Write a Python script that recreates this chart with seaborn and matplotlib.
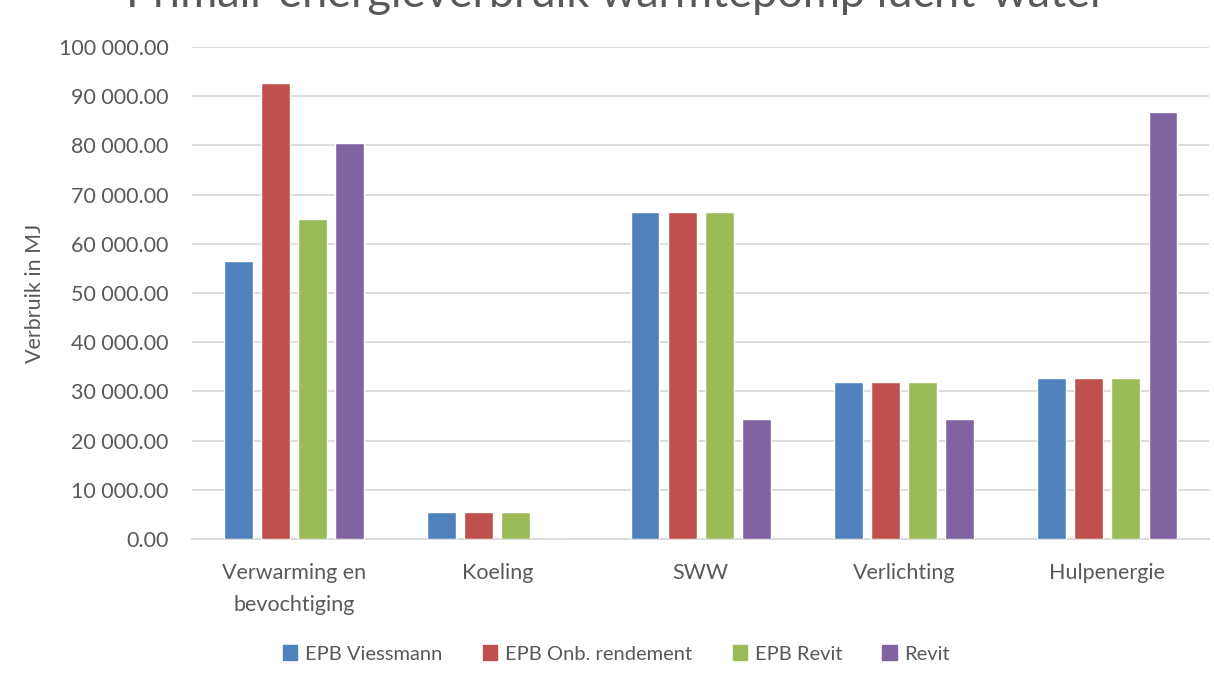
import numpy as np
import pandas as pd
import matplotlib
matplotlib.use("Agg")
import matplotlib.pyplot as plt
from matplotlib.ticker import FuncFormatter, MultipleLocator
import seaborn as sns

categories = ["Verwarming en\nbevochtiging", "Koeling", "SWW", "Verlichting", "Hulpenergie"]
series = ["EPB Viessmann", "EPB Onb. rendement", "EPB Revit", "Revit"]
epb_viessmann = [56600, 5500, 66500, 31900, 32700]
epb_onb_rendement = [92700, 5500, 66500, 31900, 32700]
epb_revit = [65000, 5500, 66500, 31900, 32700]
revit = [80500, 0, 24400, 24300, 86800]
colors = ["#4F81BD", "#C0504D", "#9BBB59", "#8064A2"]

TEXT = "#595959"
GRID = "#D9D9D9"


def fmt(v, pos):
    s = f"{v:,.2f}"
    return s.replace(",", " ")


def run():
    df = pd.DataFrame({
        "cat": np.repeat(categories, len(series)),
        "serie": series * len(categories),
        "val": np.ravel(np.column_stack([epb_viessmann, epb_onb_rendement, epb_revit, revit])),
    })

    sns.set_style("white")
    plt.rcParams["font.family"] = ["Lato", "DejaVu Sans"]

    fig = plt.figure(figsize=(12.14, 6.76), dpi=100)
    ax = fig.add_axes([0.1584, 0.2027, 0.9959 - 0.1584, 0.9305 - 0.2027])

    sns.barplot(data=df, x="cat", y="val", hue="serie", hue_order=series,
                palette=colors, width=0.73, gap=0.22, saturation=1,
                ax=ax, legend=False, zorder=3)

    ax.set_ylim(0, 100000)
    ax.set_xlim(-0.5, len(categories) - 0.5)
    ax.yaxis.set_major_locator(MultipleLocator(10000))
    ax.yaxis.set_major_formatter(FuncFormatter(fmt))
    ax.grid(axis="y", color=GRID, linewidth=1.3, zorder=0)
    for side in ["top", "right", "left"]:
        ax.spines[side].set_visible(False)
    ax.spines["bottom"].set_color(GRID)
    ax.spines["bottom"].set_linewidth(1.3)
    ax.tick_params(axis="y", length=0, pad=17, labelsize=15.5, labelcolor=TEXT)
    ax.tick_params(axis="x", length=0, pad=17, labelsize=15.5, labelcolor=TEXT)
    for lbl in ax.get_xticklabels():
        lbl.set_linespacing(1.75)
    ax.set_xlabel("")
    ax.set_ylabel("Verbruik in MJ", fontsize=15.5, color=TEXT, labelpad=10)

    handles = [plt.Rectangle((0, 0), 1, 1, color=c) for c in colors]
    fig.legend(handles, series, loc="center", bbox_to_anchor=(0.508, 1 - 654 / 676),
               ncol=4, frameon=False, fontsize=14.5, labelcolor=TEXT,
               handlelength=0.7, handleheight=0.7, handletextpad=0.4,
               columnspacing=2.0)

    fig.text(0.508, 1 - 7 / 676, "Primair energieverbruik warmtepomp lucht-water",
             ha="center", va="baseline", fontsize=32.5, color=TEXT)

    fig.savefig("out.png", dpi=100)


if __name__ == "__main__":
    run()
